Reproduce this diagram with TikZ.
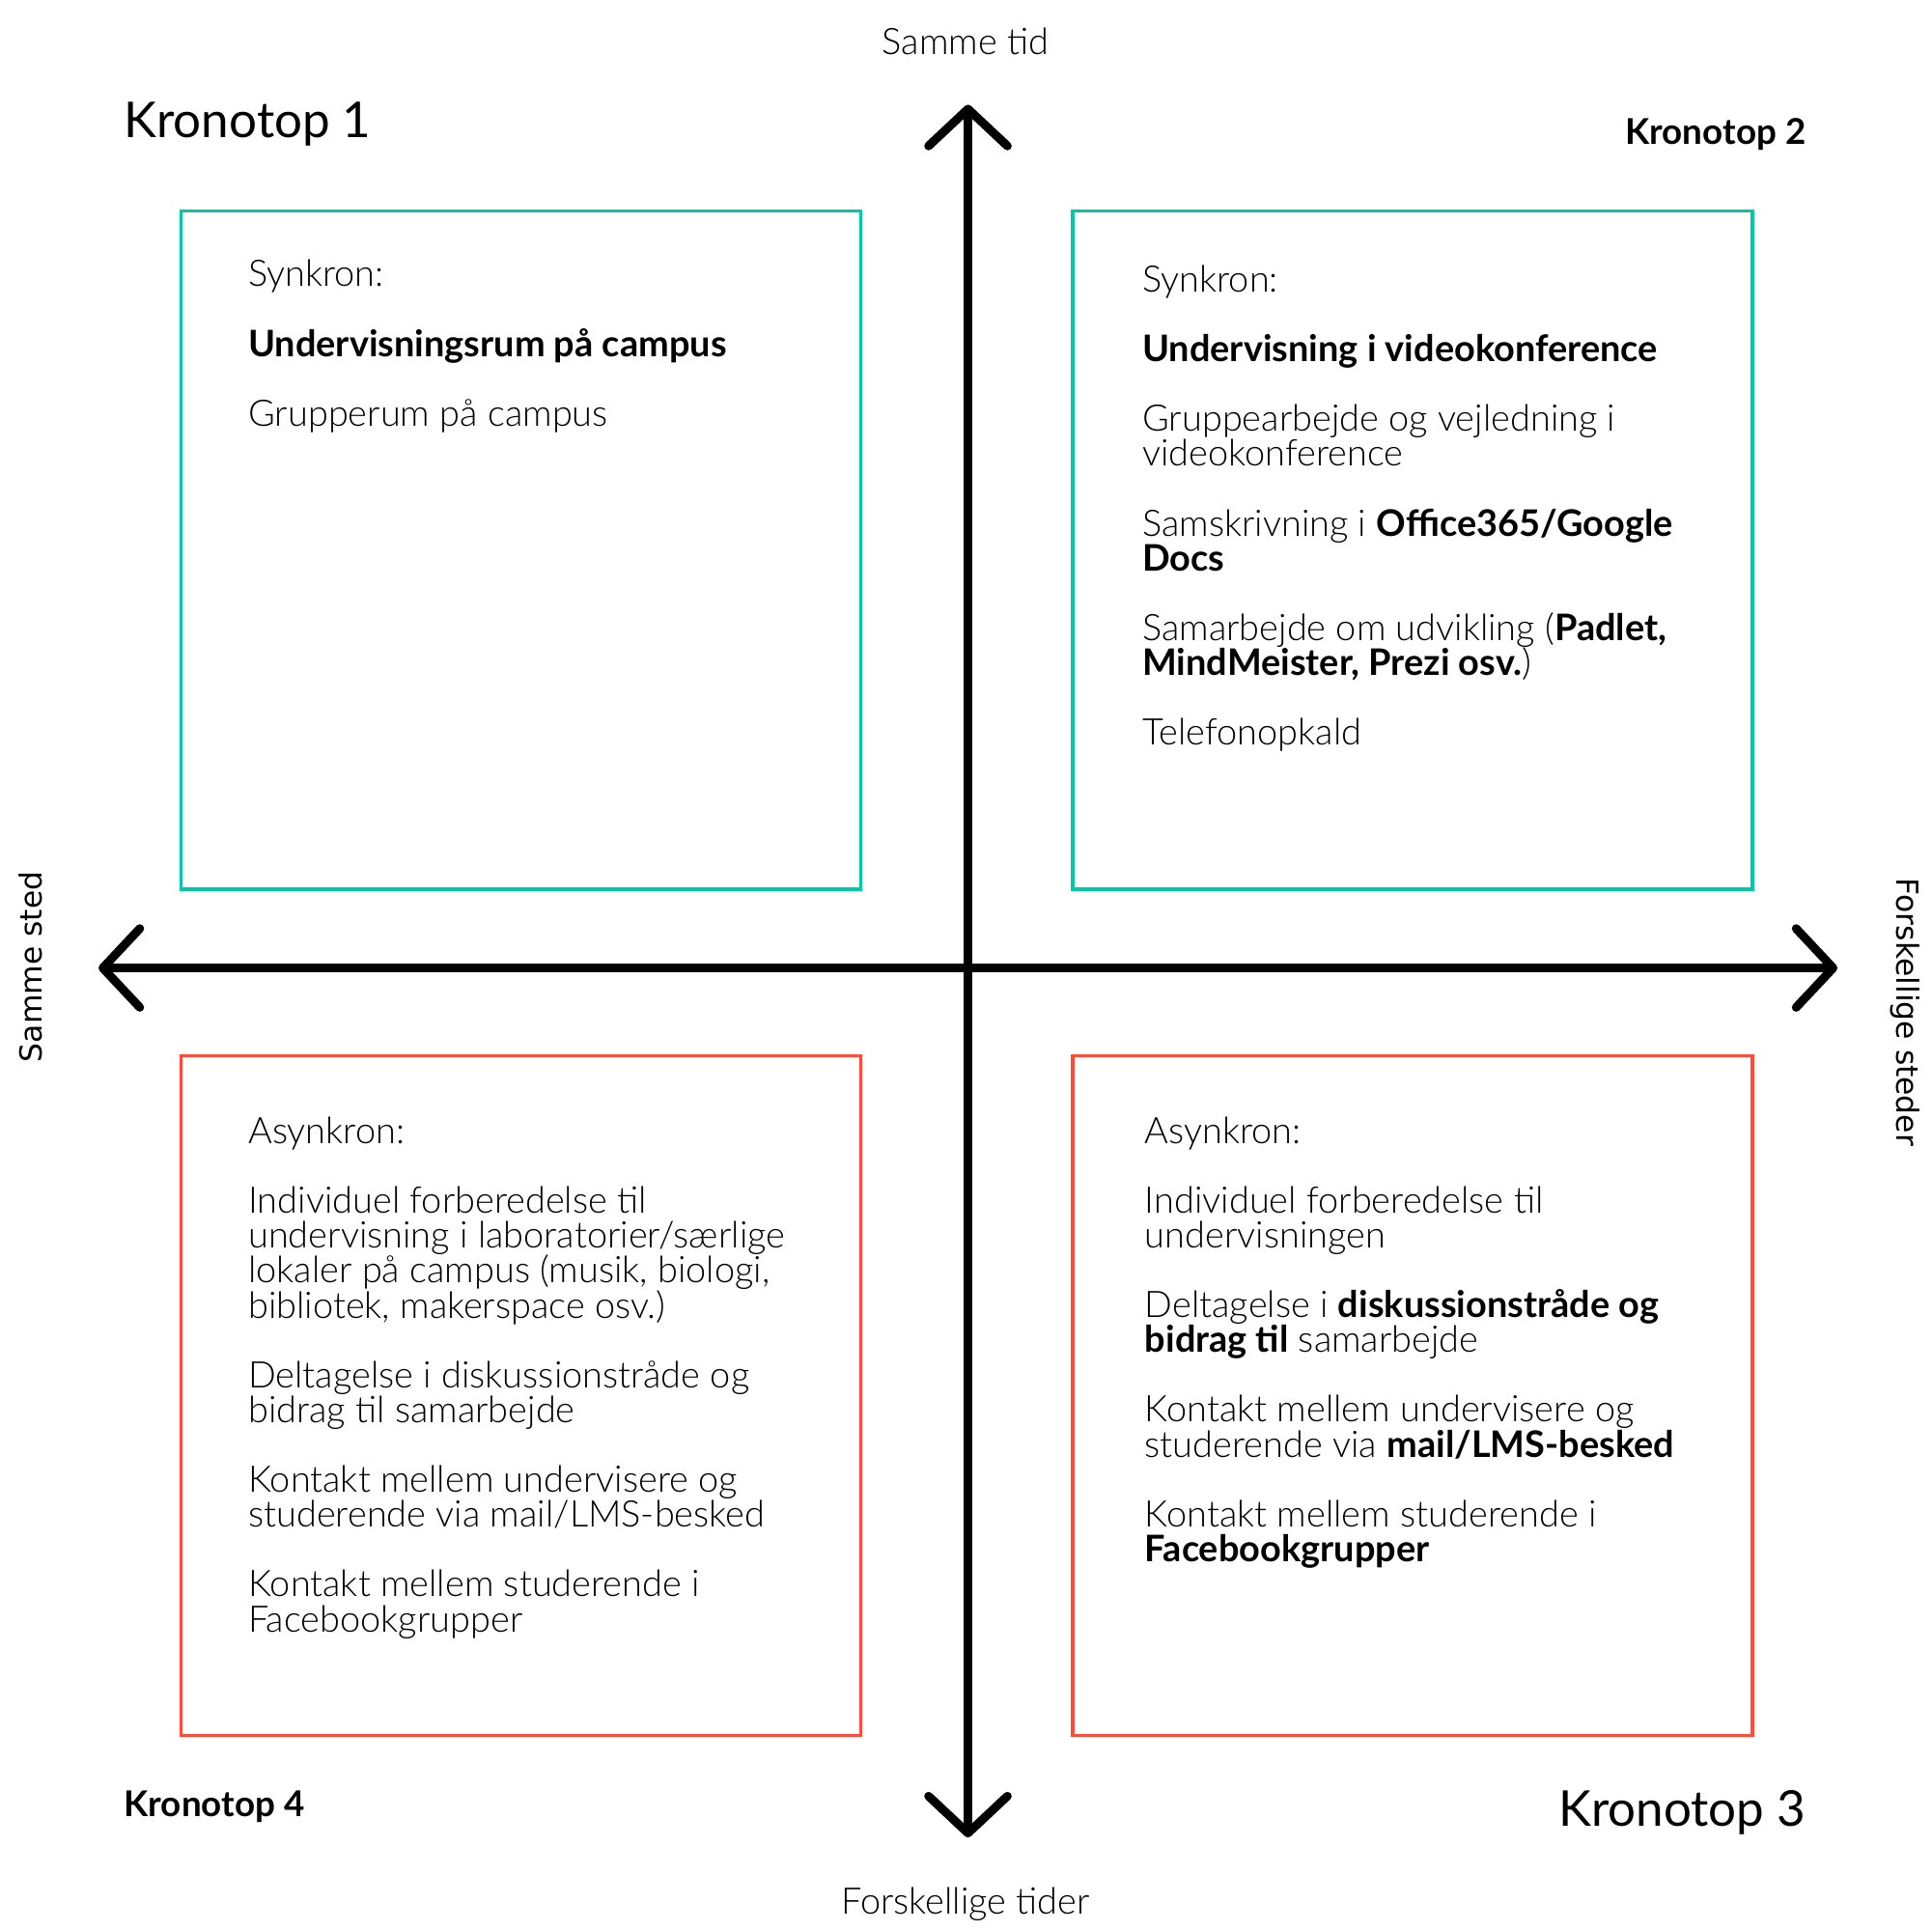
\documentclass[tikz,border=0pt]{standalone}
\usepackage{fontspec}
\setmainfont{Lato Light}[BoldFont={Lato Bold}]
\newfontfamily\latoreg{Lato}
\newfontfamily\dejavu{DejaVu Sans}
\usetikzlibrary{arrows.meta}
\definecolor{tealbox}{RGB}{0,200,170}
\definecolor{redbox}{RGB}{255,75,60}
\tikzset{
  axisline/.style={line width=0.07cm, line cap=round,
    {Straight Barb[length=0.30cm, width=0.64cm, line width=0.07cm, round]}-{Straight Barb[length=0.30cm, width=0.64cm, line width=0.07cm, round]}},
  synbox/.style={draw=tealbox, line width=0.025cm},
  asynbox/.style={draw=redbox, line width=0.025cm},
  body/.style={inner sep=0pt, anchor=base west, align=left, font=\fontsize{8.45}{8.05}\selectfont},
  bigtitle/.style={inner sep=0pt, font=\latoreg\fontsize{11.4}{13}\selectfont},
  smalltitle/.style={inner sep=0pt, font=\bfseries\fontsize{8.2}{10}\selectfont},
  axislabel/.style={inner sep=0pt, anchor=base, font=\fontsize{8.45}{10}\selectfont},
  sidelabel/.style={inner sep=0pt, anchor=base, font=\dejavu\fontsize{7.0}{8.5}\selectfont},
}
\begin{document}
\lineskiplimit=-20pt
\begin{tikzpicture}[x=0.01cm, y=0.01cm]
\useasboundingbox[fill=white] (0,0) rectangle (1568,-1568);

% boxes
\draw[synbox] (147,-171) rectangle (699,-722);
\draw[synbox] (871,-171) rectangle (1423,-722);
\draw[asynbox] (147,-857) rectangle (699,-1409);
\draw[asynbox] (871,-857) rectangle (1423,-1409);

% axes
\coordinate (top) at (786,-85);
\coordinate (bottom) at (786,-1492);
\coordinate (left) at (80,-786);
\coordinate (right) at (1492,-786);
\draw[axisline] (bottom) -- (top);
\draw[axisline] (left) -- (right);

% axis labels
\node[axislabel] (samtid) at (784,-44) {Samme tid};
\node[axislabel] (fortid) at (784,-1554) {Forskellige tider};
\node[sidelabel, rotate=90] (samsted) at (34,-785) {Samme sted};
\node[sidelabel, rotate=-90] (forsted) at (1540,-822) {Forskellige steder};

% titles
\node[bigtitle, anchor=base west] (k1) at (100,-112) {Kronotop 1};
\node[smalltitle, anchor=base east] (k2) at (1467,-117) {Kronotop 2};
\node[bigtitle, anchor=base east] (k3) at (1467,-1483) {Kronotop 3};
\node[smalltitle, anchor=base west] (k4) at (100,-1475) {Kronotop 4};

% box texts (anchored at the baseline of the last line)
\node[body] (t1) at (201,-346) {Synkron:\\[8.05pt]
\textbf{Undervisningsrum på campus}\\[8.05pt]
Grupperum på campus};

\node[body] (t2) at (927,-605) {Synkron:\\[8.05pt]
\textbf{Undervisning i videokonference}\\[8.05pt]
Gruppearbejde og vejledning i\\
videokonference\\[8.05pt]
Samskrivning i \textbf{Office365/Google}\\
\textbf{Docs}\\[8.05pt]
Samarbejde om udvikling (\textbf{Padlet,}\\
\textbf{MindMeister, Prezi osv.})\\[8.05pt]
Telefonopkald};

\node[body] (t3) at (201,-1325) {Asynkron:\\[8.05pt]
Individuel forberedelse til\\
undervisning i laboratorier/særlige\\
lokaler på campus (musik, biologi,\\
bibliotek, makerspace osv.)\\[8.05pt]
Deltagelse i diskussionstråde og\\
bidrag til samarbejde\\[8.05pt]
Kontakt mellem undervisere og\\
studerende via mail/LMS-besked\\[8.05pt]
Kontakt mellem studerende i\\
Facebookgrupper};

\node[body] (t4) at (929,-1268) {Asynkron:\\[8.05pt]
Individuel forberedelse til\\
undervisningen\\[8.05pt]
Deltagelse i \textbf{diskussionstråde og}\\
\textbf{bidrag til} samarbejde\\[8.05pt]
Kontakt mellem undervisere og\\
studerende via \textbf{mail/LMS-besked}\\[8.05pt]
Kontakt mellem studerende i\\
\textbf{Facebookgrupper}};
\end{tikzpicture}
\end{document}
